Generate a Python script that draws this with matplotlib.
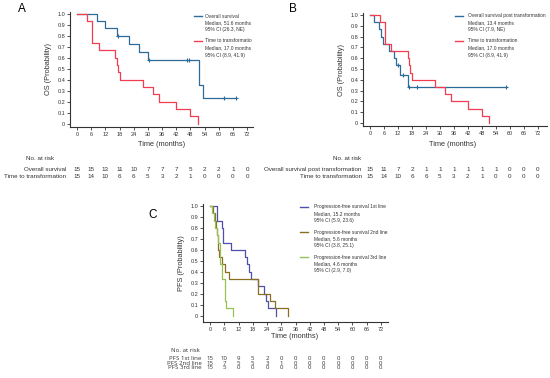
import matplotlib
matplotlib.use("Agg")
import matplotlib.pyplot as plt
import matplotlib.transforms as mtransforms

plt.rcParams['font.family'] = ['Liberation Sans', 'DejaVu Sans']

W, H = 550, 378

# ---- data ----
ticks = list(range(0, 73, 6))

# panel A / B: time to transformation (same curve in both)
ttt_t = [0, 4.4, 6.4, 9.2, 16.2, 16.8, 17.3, 18.0, 27.8, 32.3, 34.9, 42.0, 47.9, 51.3]
ttt_s = [1.0, 0.933, 0.733, 0.667, 0.6, 0.533, 0.467, 0.4, 0.333, 0.267, 0.2, 0.133, 0.067, 0.0]

# panel A: overall survival
os_t = [0, 8.3, 12.0, 17.0, 22.0, 26.3, 30.0, 51.5, 53.2, 67.4]
os_s = [1.0, 0.933, 0.867, 0.8, 0.727, 0.655, 0.582, 0.349, 0.233, 0.233]
os_cens_t = [17.3, 30.3, 46.4, 47.2, 62.3, 67.4]
os_cens_s = [0.8, 0.582, 0.582, 0.582, 0.233, 0.233]

# panel B: overall survival post transformation
ospt_t = [0, 1.7, 3.7, 4.6, 5.4, 8.0, 10.4, 11.3, 13.1, 16.5, 58.2]
ospt_s = [1.0, 0.933, 0.867, 0.8, 0.733, 0.667, 0.6, 0.533, 0.444, 0.333, 0.333]
ospt_cens_t = [12.2, 14.3, 16.7, 20.0, 58.2]
ospt_cens_s = [0.533, 0.444, 0.333, 0.333, 0.333]

# panel C: PFS by line
p1_t = [0, 3.1, 5.0, 5.3, 5.6, 8.7, 14.7, 15.7, 16.3, 17.3, 20.3, 22.9, 23.4, 24.6, 27.8]
p1_s = [1.0, 0.867, 0.8, 0.733, 0.667, 0.6, 0.533, 0.467, 0.4, 0.333, 0.267, 0.2, 0.133, 0.067, 0.0]
p2_t = [0, 1.1, 2.0, 2.6, 3.0, 3.5, 3.7, 4.9, 6.3, 8.0, 20.3, 25.2, 27.4, 33.0]
p2_s = [1.0, 0.933, 0.867, 0.8, 0.733, 0.6, 0.533, 0.467, 0.4, 0.333, 0.2, 0.133, 0.067, 0.0]
p3_t = [0, 0.8, 1.5, 2.2, 2.8, 3.3, 4.2, 4.9, 6.1, 6.4, 6.7, 9.8]
p3_s = [1.0, 0.933, 0.867, 0.8, 0.733, 0.667, 0.467, 0.333, 0.2, 0.133, 0.067, 0.0]

# numbers at risk
risk_os = [15, 15, 13, 11, 10, 7, 7, 7, 5, 2, 2, 1, 0]
risk_ttt = [15, 14, 10, 6, 6, 5, 3, 2, 1, 0, 0, 0, 0]
risk_ospt = [15, 11, 7, 2, 1, 1, 1, 1, 1, 1, 0, 0, 0]
risk_p1 = [15, 10, 9, 5, 2, 0, 0, 0, 0, 0, 0, 0, 0]
risk_p2 = [15, 7, 5, 5, 3, 1, 0, 0, 0, 0, 0, 0, 0]
risk_p3 = [15, 5, 0, 0, 0, 0, 0, 0, 0, 0, 0, 0, 0]

BLUE = '#2d6b9b'
RED = '#f03e50'
PURPLE = '#4f4fae'
OLIVE = '#8a6e22'
GREEN = '#97c152'
TXT = '#333333'

fig = plt.figure(figsize=(W / 100, H / 100), dpi=100)


def fx(px):
    return px / W


def fy(py):
    return 1 - py / H


def make_axes(left, right, top, bottom, xlim, ylim, ylabel):
    ax = fig.add_axes([fx(left), fy(bottom), fx(right - left), (bottom - top) / H])
    ax.set_xlim(*xlim)
    ax.set_ylim(*ylim)
    for s in ['top', 'right']:
        ax.spines[s].set_visible(False)
    for s in ['left', 'bottom']:
        ax.spines[s].set_linewidth(0.8)
        ax.spines[s].set_color(TXT)
    ax.set_xticks(ticks)
    ax.set_xticklabels([str(t) for t in ticks])
    yt = [i / 10 for i in range(11)]
    ax.set_yticks(yt)
    ax.set_yticklabels(['0'] + ['%.1f' % v for v in yt[1:]])
    ax.tick_params(labelsize=4.0, length=2, width=0.6, pad=1.5, colors=TXT)
    ax.set_ylabel(ylabel, fontsize=5.3, labelpad=4, color=TXT)
    return ax


def km(ax, t, s, color, ct=None, cs=None):
    ax.step(t, s, where='post', color=color, lw=0.9)
    if ct:
        ax.plot(ct, cs, '+', color=color, ms=3.5, mew=0.8)


def legend_entry(x_line, x_text, y, color, lines, dy=7):
    fig.add_artist(plt.Line2D([fx(x_line), fx(x_line + 8)], [fy(y), fy(y)], color=color, lw=1.0))
    for i, txt in enumerate(lines):
        fig.text(fx(x_text), fy(y + i * dy), txt, fontsize=3.5, va='center', ha='left', color=TXT)


def risk_table(ax, label_x, title_x, title_y, rows, row_y, fs=4.5, family=None):
    tr = mtransforms.blended_transform_factory(ax.transData, fig.transFigure)
    kw = {}
    if family:
        kw['family'] = family
    fig.text(fx(title_x), fy(title_y), 'No. at risk', fontsize=fs, ha='center', va='center', color=TXT, **kw)
    for (name, vals), y in zip(rows, row_y):
        fig.text(fx(label_x), fy(y), name, fontsize=fs, ha='right', va='center', color=TXT, **kw)
        for t, v in zip(ticks, vals):
            ax.text(t, fy(y), str(v), transform=tr, fontsize=fs, ha='center', va='center', color=TXT, **kw)


# ---- panel A ----
axA = make_axes(70, 253, 11.5, 127, (-3, 74.5), (-0.03, 1.02), 'OS (Probability)')
km(axA, os_t, os_s, BLUE, os_cens_t, os_cens_s)
km(axA, ttt_t, ttt_s, RED)
fig.text(fx(162), fy(145), 'Time (months)', fontsize=5.3, ha='center', va='center', color=TXT)
fig.text(fx(22), fy(9), 'A', fontsize=8.5, ha='center', va='center')
legend_entry(194, 205, 16, BLUE, ['Overall survival', 'Median, 51.6 months', '95% CI (26.3, NE)'])
legend_entry(194, 205, 41, RED, ['Time to transformatio', 'Median, 17.0 months', '95% CI (8.9, 41.9)'])
risk_table(axA, 66, 40, 158.3,
           [('Overall survival', risk_os), ('Time to transformation', risk_ttt)], [169.3, 176.7])

# ---- panel B ----
axB = make_axes(363, 547, 12.8, 126.2, (-3, 76), (-0.03, 1.02), 'OS (Probability)')
km(axB, ospt_t, ospt_s, BLUE, ospt_cens_t, ospt_cens_s)
km(axB, ttt_t, ttt_s, RED)
fig.text(fx(453), fy(145), 'Time (months)', fontsize=5.3, ha='center', va='center', color=TXT)
fig.text(fx(293), fy(9), 'B', fontsize=8.5, ha='center', va='center')
legend_entry(455, 468, 16, BLUE, ['Overall survival post transformation', 'Median, 13.4 months', '95% CI (7.9, NE)'])
legend_entry(455, 468, 41, RED, ['Time to transformation', 'Median, 17.0 months', '95% CI (8.9, 41.9)'])
risk_table(axB, 361.7, 346.7, 158.3,
           [('Overall survival post transformation', risk_ospt), ('Time to transformation', risk_ttt)],
           [169.3, 176.7])

# ---- panel C ----
axC = make_axes(203, 388, 203.8, 321.7, (-3, 75), (-0.055, 1.02), 'PFS (Probability)')
km(axC, p1_t, p1_s, PURPLE)
km(axC, p2_t, p2_s, OLIVE)
km(axC, p3_t, p3_s, GREEN)
fig.text(fx(295), fy(337), 'Time (months)', fontsize=5.3, ha='center', va='center', color=TXT)
fig.text(fx(153), fy(215), 'C', fontsize=8.5, ha='center', va='center')
legend_entry(300, 314, 206.7, PURPLE, ['Progression-free survival 1st line', 'Median, 15.2 months', '95% CI (5.9, 23.6)'], dy=6.8)
legend_entry(300, 314, 232.3, OLIVE, ['Progression-free survival 2nd line', 'Median, 5.6 months', '95% CI (3.8, 25.1)'], dy=6.8)
legend_entry(300, 314, 257.3, GREEN, ['Progression-free survival 3rd line', 'Median, 4.6 months', '95% CI (2.9, 7.0)'], dy=6.8)
risk_table(axC, 201.7, 185, 350,
           [('PFS 1st line', risk_p1), ('PFS 2nd line', risk_p2), ('PFS 3rd line', risk_p3)],
           [358.6, 363.2, 367.8], fs=4.4, family=['Open Sans', 'DejaVu Sans'])

fig.savefig('out.png', dpi=100)
